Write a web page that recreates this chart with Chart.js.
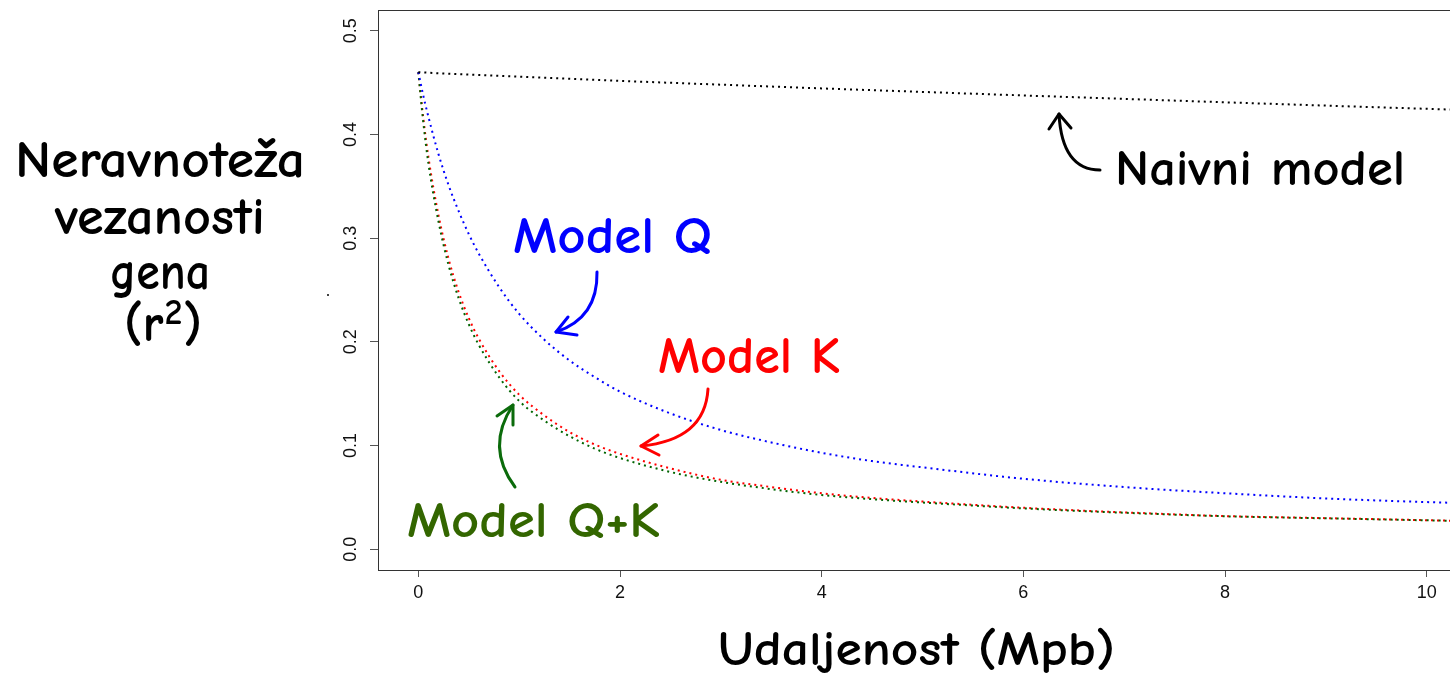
<!DOCTYPE html>
<html>
<head>
<meta charset="utf-8">
<script src="https://cdn.jsdelivr.net/npm/chart.js@4.4.1/dist/chart.umd.min.js"></script>
<style>
  html, body { margin: 0; padding: 0; background: #fff; overflow: hidden; width: 1450px; height: 678px; }
  #wrap { width: 1480px; height: 678px; }
</style>
</head>
<body>
<div id="wrap"><canvas id="ld" width="1480" height="678"></canvas></div>
<script>
// Distance between loci (Mpb)
const distances = [0, 0.05, 0.1, 0.2, 0.3, 0.4, 0.5, 0.6, 0.8, 1.0, 1.25, 1.5, 1.75, 2, 2.5, 3, 3.5, 4, 4.5, 5, 6, 7, 8, 9, 10, 10.4];

// Expected r^2 under each model
const naiveModel = [0.46, 0.4598, 0.4595, 0.459, 0.4586, 0.4582, 0.4578, 0.4574, 0.4565, 0.4557, 0.4547, 0.4537, 0.4527, 0.4517, 0.4498, 0.448, 0.4462, 0.4444, 0.4427, 0.441, 0.4376, 0.4343, 0.431, 0.4278, 0.4247, 0.4235];
const modelQ = [0.46, 0.437, 0.417, 0.381, 0.351, 0.326, 0.304, 0.285, 0.253, 0.227, 0.202, 0.182, 0.166, 0.152, 0.131, 0.115, 0.103, 0.093, 0.085, 0.079, 0.068, 0.060, 0.054, 0.049, 0.0455, 0.0445];
const modelK = [0.46, 0.415, 0.378, 0.322, 0.280, 0.248, 0.223, 0.203, 0.172, 0.149, 0.129, 0.113, 0.101, 0.092, 0.078, 0.067, 0.060, 0.054, 0.0495, 0.046, 0.040, 0.0356, 0.032, 0.030, 0.028, 0.0272];
const modelQK = [0.46, 0.411, 0.372, 0.316, 0.274, 0.242, 0.217, 0.197, 0.166, 0.143, 0.124, 0.109, 0.097, 0.088, 0.0745, 0.065, 0.058, 0.0523, 0.0483, 0.0451, 0.0394, 0.0352, 0.0318, 0.0298, 0.0279, 0.0271];

// Axis ticks
const xTicks = [0, 2, 4, 6, 8, 10];
const xTickLabels = ['0', '2', '4', '6', '8', '10'];
const yTicks = [0, 0.1, 0.2, 0.3, 0.4, 0.5];
const yTickLabels = ['0.0', '0.1', '0.2', '0.3', '0.4', '0.5'];

const handFont = '"Comic Sans MS", "Comic Neue", Lato, "Open Sans", sans-serif';

// Hand-written style labels
const labels = [
  { text: 'Neravnoteža', color: '#000', x: 15, y: 177, w: 290, size: 52 },
  { text: 'vezanosti', color: '#000', x: 55, y: 234, w: 210, size: 52 },
  { text: 'gena', color: '#000', x: 110, y: 289, w: 100, size: 52 },
  { text: 'Udaljenost (Mpb)', color: '#000', x: 718, y: 665, w: 397, size: 48 },
  { text: 'Naivni model', color: '#000', x: 1115, y: 185, w: 290, size: 50 },
  { text: 'Model Q', color: '#0000ff', x: 513, y: 253, w: 199, size: 52 },
  { text: 'Model K', color: '#ff0000', x: 658, y: 373, w: 182, size: 52 },
  { text: 'Model Q+K', color: '#336600', x: 407, y: 537, w: 253, size: 50 }
];

// "(r²)" with a raised exponent
const exponentLabel = { base: '(r', sup: '2', close: ')', x: 124, y: 341, size: 52, supSize: 36, rise: 17 };

// Curved pointers from each label to its curve
const pointers = [
  { color: '#000000', from: [1100, 170], ctrl: [1062, 170], tip: [1059, 114], arms: [[1049, 129], [1071, 128]] },
  { color: '#0000ff', from: [597, 272], ctrl: [598, 318], tip: [556, 332], arms: [[568, 317], [577, 335]] },
  { color: '#ff0000', from: [708, 389], ctrl: [705, 440], tip: [641, 446], arms: [[658, 435], [659, 455]] },
  { color: '#0b6b0b', from: [515, 487], ctrl: [485, 447], tip: [513, 405], arms: [[497, 416], [513, 425]] }
];

const frameAndNotes = {
  id: 'frameAndNotes',
  afterDraw(chart) {
    const ctx = chart.ctx;
    const a = chart.chartArea;
    ctx.save();
    // plot frame
    ctx.strokeStyle = '#333';
    ctx.lineWidth = 1;
    ctx.strokeRect(Math.round(a.left) + 0.5, Math.round(a.top) + 0.5, Math.round(a.right - a.left), Math.round(a.bottom - a.top));

    // pointers
    ctx.lineCap = 'round';
    ctx.lineJoin = 'round';
    ctx.lineWidth = 3;
    pointers.forEach(p => {
      ctx.strokeStyle = p.color;
      ctx.beginPath();
      ctx.moveTo(p.from[0], p.from[1]);
      ctx.quadraticCurveTo(p.ctrl[0], p.ctrl[1], p.tip[0], p.tip[1]);
      ctx.stroke();
      ctx.beginPath();
      ctx.moveTo(p.arms[0][0], p.arms[0][1]);
      ctx.lineTo(p.tip[0], p.tip[1]);
      ctx.lineTo(p.arms[1][0], p.arms[1][1]);
      ctx.stroke();
    });

    // labels, fitted to their widths
    ctx.textAlign = 'left';
    ctx.textBaseline = 'alphabetic';
    labels.forEach(l => {
      ctx.font = 'bold ' + l.size + 'px ' + handFont;
      const natural = ctx.measureText(l.text).width;
      const sx = l.w / natural;
      ctx.save();
      ctx.translate(l.x, l.y);
      ctx.scale(sx, 1);
      ctx.fillStyle = l.color;
      ctx.fillText(l.text, 0, 0);
      ctx.restore();
    });

    // exponent label
    const e = exponentLabel;
    ctx.fillStyle = '#000';
    ctx.font = 'bold ' + e.size + 'px ' + handFont;
    let cx = e.x;
    ctx.fillText(e.base, cx, e.y);
    cx += ctx.measureText(e.base).width + 1;
    ctx.font = 'bold ' + e.supSize + 'px ' + handFont;
    ctx.fillText(e.sup, cx, e.y - e.rise);
    cx += ctx.measureText(e.sup).width + 1;
    ctx.font = 'bold ' + e.size + 'px ' + handFont;
    ctx.fillText(e.close, cx, e.y);

    // small stray mark beside the axis
    ctx.fillStyle = '#444';
    ctx.fillRect(327, 294, 2, 2);
    ctx.restore();
  }
};

const toPoints = ys => distances.map((d, i) => ({ x: d, y: ys[i] }));

const lineStyle = color => ({
  borderColor: color,
  backgroundColor: color,
  borderWidth: 2,
  borderDash: [2, 4],
  pointRadius: 0,
  fill: false,
  cubicInterpolationMode: 'monotone'
});

new Chart(document.getElementById('ld'), {
  type: 'line',
  data: {
    datasets: [
      Object.assign({ label: 'Naivni model', data: toPoints(naiveModel) }, lineStyle('#000000')),
      Object.assign({ label: 'Model Q', data: toPoints(modelQ) }, lineStyle('#0000ff')),
      Object.assign({ label: 'Model Q+K', data: toPoints(modelQK) }, lineStyle('#006400')),
      Object.assign({ label: 'Model K', data: toPoints(modelK) }, lineStyle('#ff0000'))
    ]
  },
  options: {
    responsive: false,
    animation: false,
    devicePixelRatio: 1,
    layout: { padding: { top: 10, right: 13, left: 0, bottom: 0 } },
    plugins: { legend: { display: false }, tooltip: { enabled: false } },
    scales: {
      x: {
        type: 'linear',
        min: -0.4,
        max: 10.4,
        afterBuildTicks: s => { s.ticks = xTicks.map(v => ({ value: v })); },
        afterFit: s => { s.height = 108; s.paddingLeft = 0; s.paddingRight = 0; },
        grid: { drawOnChartArea: false, drawTicks: true, tickLength: 7, color: '#555' },
        border: { display: true, color: '#333' },
        ticks: {
          padding: 5,
          autoSkip: false,
          maxRotation: 0,
          color: '#111',
          font: { family: '"Liberation Sans", Arial, sans-serif', size: 18 },
          callback: (v, i) => xTickLabels[i]
        }
      },
      y: {
        type: 'linear',
        min: -0.02,
        max: 0.52,
        afterBuildTicks: s => { s.ticks = yTicks.map(v => ({ value: v })); },
        afterFit: s => { s.width = 378; s.paddingTop = 0; s.paddingBottom = 0; },
        grid: { drawOnChartArea: false, drawTicks: true, tickLength: 8, color: '#555' },
        border: { display: true, color: '#333' },
        ticks: {
          padding: 6,
          autoSkip: false,
          minRotation: 90,
          maxRotation: 90,
          crossAlign: 'center',
          color: '#111',
          font: { family: '"Liberation Sans", Arial, sans-serif', size: 18 },
          callback: (v, i) => yTickLabels[i]
        }
      }
    }
  },
  plugins: [frameAndNotes]
});
</script>
</body>
</html>
